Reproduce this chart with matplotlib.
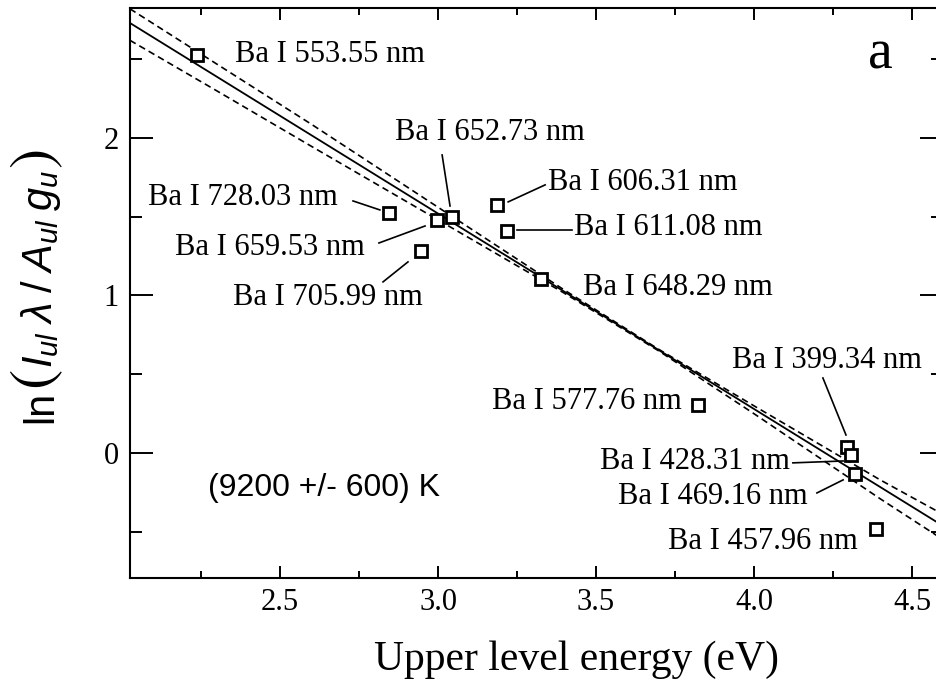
import matplotlib
matplotlib.use("Agg")
import matplotlib.pyplot as plt
from matplotlib.ticker import MultipleLocator

# ---- data ----
line_nm = ["553.55", "728.03", "659.53", "652.73", "705.99", "606.31", "611.08",
           "648.29", "577.76", "399.34", "428.31", "469.16", "457.96"]
energy = [2.237, 2.845, 2.997, 3.044, 2.946, 3.187, 3.218,
          3.326, 3.823, 4.294, 4.307, 4.320, 4.386]
ln_val = [2.527, 1.524, 1.480, 1.498, 1.283, 1.575, 1.410,
          1.105, 0.305, 0.038, -0.013, -0.133, -0.483]

# Boltzmann fit and confidence band
fit_x = [2.025, 4.598]
fit_y = [2.73, -0.463]
band_x = [2.025, 2.3, 2.6, 3.0, 3.4, 3.7, 4.0, 4.4, 4.598]
band_hi = [2.82, 2.469, 2.086, 1.560, 1.034, 0.656, 0.299, -0.172, -0.39]
band_lo = [2.62, 2.299, 1.946, 1.480, 1.014, 0.646, 0.249, -0.292, -0.55]

temp_text = "(9200 +/- 600) K"

# label placement: text x, text y, alignment, leader line (x0, y0, x1, y1) or None
label_pos = {
    "553.55": (2.358, 2.527, "left", None),
    "728.03": (2.082, 1.625, "left", (2.731, 1.600, 2.816, 1.543)),
    "659.53": (2.168, 1.302, "left", (2.813, 1.333, 2.959, 1.441)),
    "652.73": (2.864, 2.032, "left", (3.013, 1.892, 3.038, 1.568)),
    "705.99": (2.351, 0.984, "left", (2.826, 1.086, 2.905, 1.213)),
    "606.31": (3.348, 1.714, "left", (3.222, 1.594, 3.339, 1.702)),
    "611.08": (3.430, 1.429, "left", (3.250, 1.416, 3.424, 1.416)),
    "648.29": (3.459, 1.048, "left", None),
    "577.76": (3.772, 0.324, "right", None),
    "399.34": (3.930, 0.590, "left", (4.218, 0.476, 4.291, 0.114)),
    "428.31": (4.114, -0.057, "right", (4.123, -0.063, 4.282, -0.051)),
    "469.16": (4.171, -0.279, "right", (4.199, -0.254, 4.282, -0.171)),
    "457.96": (4.329, -0.565, "right", None),
}

plt.rcParams["font.family"] = ["Liberation Serif", "DejaVu Serif"]
plt.rcParams["mathtext.fontset"] = "custom"
plt.rcParams["mathtext.rm"] = "Liberation Sans"
plt.rcParams["mathtext.it"] = "Liberation Sans:italic"

W, H = 936, 681
fig = plt.figure(figsize=(W / 100, H / 100), dpi=100)
ax = fig.add_axes([130 / W, 103 / H, 813 / W, 570 / H])

ax.plot(fit_x, fit_y, color="black", lw=1.3)
ax.plot(band_x, band_hi, color="black", lw=1.2, ls=(0, (4, 2.5)))
ax.plot(band_x, band_lo, color="black", lw=1.2, ls=(0, (4, 2.5)))
ax.plot(energy, ln_val, ls="none", marker="s", ms=8.5, mfc="white",
        mec="black", mew=2.0)

for nm in line_nm:
    tx, ty, ha, lead = label_pos[nm]
    ax.text(tx, ty, f"Ba I {nm} nm", fontsize=22, ha=ha, va="center")
    if lead is not None:
        ax.plot([lead[0], lead[2]], [lead[1], lead[3]], color="black", lw=1.2)

ax.text(2.272, -0.222, temp_text, fontsize=23, family="Liberation Sans",
        ha="left", va="center")
ax.text(4.399, 2.527, "a", fontsize=40, ha="center", va="center")

ax.set_xlim(2.0253, 4.598)
ax.set_ylim(-0.794, 2.825)
ax.set_xticks([2.5, 3.0, 3.5, 4.0, 4.5])
ax.set_xticklabels(["2.5", "3.0", "3.5", "4.0", "4.5"])
ax.xaxis.set_minor_locator(MultipleLocator(0.25))
ax.set_yticks([0, 1, 2])
ax.set_yticklabels(["0", "1", "2"])
ax.yaxis.set_minor_locator(MultipleLocator(0.5))

ax.tick_params(axis="x", which="major", direction="in", length=8.6, width=1.4,
               top=True, labelsize=22, pad=7)
ax.tick_params(axis="x", which="minor", direction="in", length=5, width=1.4, top=True)
ax.tick_params(axis="y", which="major", direction="in", length=16.5, width=1.4,
               right=True, labelsize=22, pad=8)
ax.tick_params(axis="y", which="minor", direction="in", length=8.6, width=1.4, right=True)
for sp in ax.spines.values():
    sp.set_linewidth(1.5)

# y label built from pieces so the brackets can be taller than the text
renderer = fig.canvas.get_renderer()
pieces = [("ln", 30, None), (r"$($", 44, "stixsans"),
          (r"$I_{ul}\;\lambda\;/\;A_{ul}\;g_u$", 30, None), (r"$)$", 44, "stixsans")]
y_px = 423
base_x = 52
for s, fs, mf in pieces:
    kw = {"math_fontfamily": mf} if mf else {}
    t = fig.text(base_x / W, 1 - y_px / H, s, rotation=90, rotation_mode="anchor",
                 ha="left", va="baseline", fontsize=fs, family="Liberation Sans", **kw)
    y_px -= t.get_window_extent(renderer).height + 1

fig.text(577 / W, 1 - 660 / H, "Upper level energy (eV)",
         ha="center", va="center", fontsize=30)

fig.savefig("out.png", dpi=100)
